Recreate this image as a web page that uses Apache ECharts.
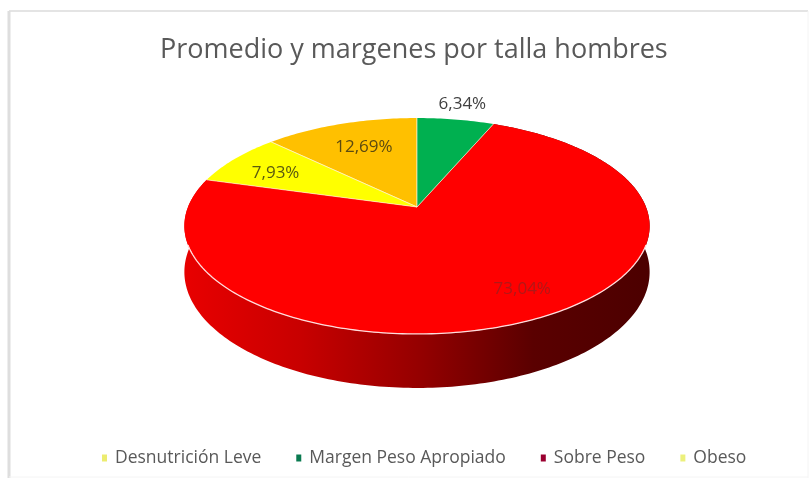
<!DOCTYPE html>
<html>
<head>
<meta charset="utf-8">
<title>Promedio y margenes por talla hombres</title>
<style>html,body{margin:0;padding:0;background:#fff}#chart{width:810px;height:485px}</style>
<script src="https://cdn.jsdelivr.net/npm/echarts@6/dist/echarts.min.js"></script>
</head>
<body>
<div id="chart"></div>
<script>
// Data
const categories = ['Desnutrición Leve', 'Margen Peso Apropiado', 'Sobre Peso', 'Obeso'];
const percentages = [12.69, 6.34, 73.04, 7.93];
const percentLabels = ['12,69%', '6,34%', '73,04%', '7,93%'];
const sliceColors = ['#FFC000', '#00B050', '#FF0000', '#FFFF00'];
const legendColors = ['#ecec70', '#0a7a50', '#9a0030', '#ecf07c'];
const labelColors = ['#5c4a10', '#404040', '#b01818', '#5a5a10'];
const labelRadii = [0.69, 1.21, 0.8, 0.74];
const labelTurns = [0.9, 0, -4.6, -2.3];

// The disc is laid out from 12 o'clock, with the first slice rotated so that
// Margen Peso Apropiado starts straight up.
const firstSliceStart = -(percentages[0] / 100) * 360;

// Tilted-disc projection
const disc = { cx: 417, cy: 207, a: 229, b: 104.6, k: 0.176, depth: 44.5 };
const rad = d => d * Math.PI / 180;
function project(deg, r, drop) {
  const u = r * Math.sin(rad(deg));
  const v = -r * Math.cos(rad(deg));
  const w = 1 - disc.k * v;
  return [disc.cx + u * disc.a / w, disc.cy + (v * disc.b + (drop ? disc.depth : 0)) / w];
}
function arc(from, to, drop) {
  const pts = [];
  const n = Math.max(2, Math.ceil(Math.abs(to - from)));
  for (let i = 0; i <= n; i++) pts.push(project(from + (to - from) * i / n, 1, drop));
  return pts;
}
function sliceStart(idx) {
  let s = firstSliceStart;
  for (let i = 0; i < idx; i++) s += percentages[i] / 100 * 360;
  return s;
}

function makeRenderer(idx) {
  return function (params, api) {
    const start = sliceStart(idx);
    const end = start + api.value(0) / 100 * 360;
    const mid = (start + end) / 2;
    const children = [];
    const apex = project(0, 0, false);
    const rim = arc(start, end, false);

    // Side wall of the disc, only the large slice reaches the front
    if (end - start > 180) {
      children.push({
        type: 'polygon',
        shape: { points: rim.concat(arc(end, start, true)) },
        style: {
          fill: new echarts.graphic.LinearGradient(0, 0, 1, 0, [
            { offset: 0, color: '#e80000' },
            { offset: 0.25, color: '#c80000' },
            { offset: 0.5, color: '#960000' },
            { offset: 0.75, color: '#5a0000' },
            { offset: 1, color: '#4c0000' }
          ])
        }
      });
    }

    children.push({
      type: 'polygon',
      shape: { points: [apex].concat(rim) },
      style: { fill: sliceColors[idx] }
    });

    // Pale rim highlight along the front edge
    if (end - start > 180) {
      children.push({
        type: 'polyline',
        shape: { points: arc(110, 250, false) },
        style: { fill: null, stroke: '#ffdcdc', lineWidth: 1.3 }
      });
    } else {
      children.push({
        type: 'polyline',
        shape: { points: [rim[0], apex, rim[rim.length - 1]] },
        style: { fill: null, stroke: 'rgba(255,245,215,0.65)', lineWidth: 1 }
      });
    }

    const at = project(mid + labelTurns[idx], labelRadii[idx], false);
    children.push({
      type: 'text',
      style: {
        text: percentLabels[idx],
        x: at[0],
        y: at[1],
        align: 'center',
        verticalAlign: 'middle',
        fill: labelColors[idx],
        font: '17px "Open Sans"'
      },
      z2: 10
    });
    return { type: 'group', children };
  };
}

const chart = echarts.init(document.getElementById('chart'), null, { renderer: 'canvas' });
const frameLine = (x1, y1, x2, y2, stroke, lineWidth) => ({
  type: 'line', silent: true, shape: { x1, y1, x2, y2 }, style: { stroke, lineWidth }
});

chart.setOption({
  animation: false,
  backgroundColor: '#ffffff',
  title: {
    text: 'Promedio y margenes por talla hombres',
    left: 155,
    top: 32,
    textStyle: { fontFamily: 'Open Sans', fontSize: 27, fontWeight: 'normal', color: '#595959' }
  },
  legend: {
    left: 97,
    top: 444,
    icon: 'rect',
    itemWidth: 5,
    itemHeight: 7,
    itemGap: 35,
    selectedMode: false,
    textStyle: { fontFamily: 'Open Sans', fontSize: 17.5, color: '#595959', padding: [0, 0, 0, 3] },
    data: categories.map((name, i) => ({ name, itemStyle: { color: legendColors[i] } }))
  },
  graphic: [
    frameLine(9, 11, 808, 11, '#e4e4e4', 2),
    frameLine(9, 11, 9, 478, '#dedede', 3),
    frameLine(808, 11, 808, 478, '#f4f4f4', 1),
    frameLine(9, 477, 808, 477, '#f4f4f4', 1)
  ],
  series: categories.map((name, i) => ({
    type: 'custom',
    name,
    coordinateSystem: 'none',
    z: name === 'Sobre Peso' ? 1 : 2,
    itemStyle: { color: sliceColors[i] },
    data: [[percentages[i]]],
    renderItem: makeRenderer(i),
    silent: true
  }))
});
</script>
</body>
</html>
